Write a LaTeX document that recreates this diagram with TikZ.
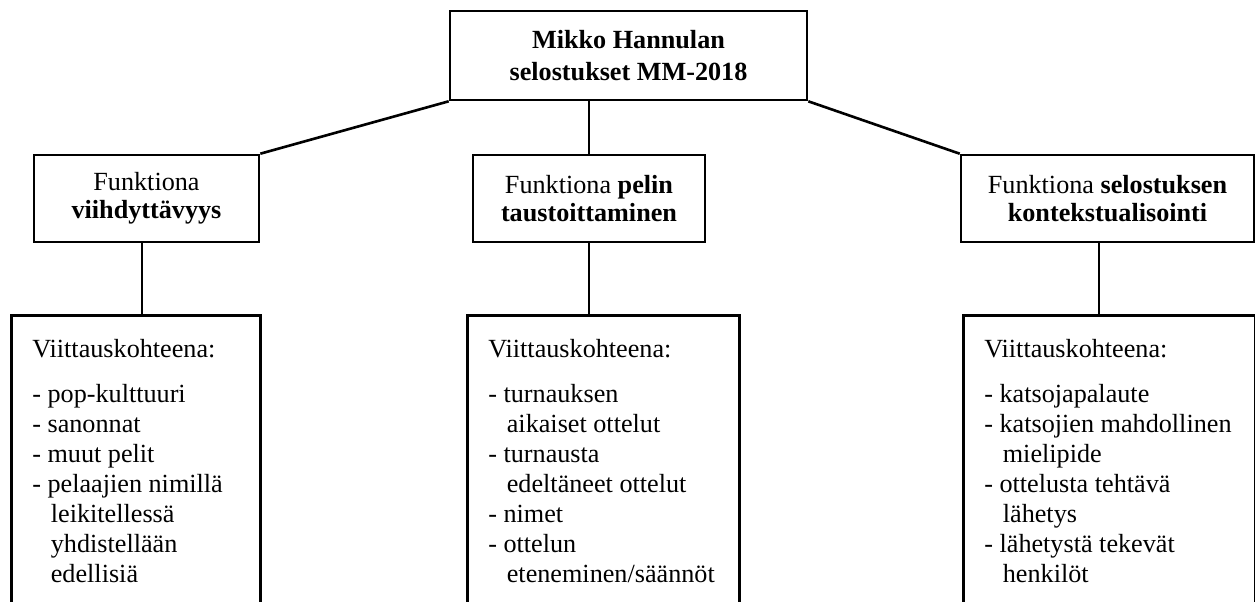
\documentclass[tikz,border=0pt]{standalone}
\usepackage{fontspec}
\setmainfont{Liberation Serif}
\usetikzlibrary{calc}
\newlength\pxu
\setlength\pxu{0.4583pt}
\newcommand\jatko{\hspace*{8.5pt}}
\newcommand\viite[2]{\parbox[t][160pt][t]{#1}{\raggedright Viittauskohteena:\\[7pt]#2}}
\tikzset{box/.style={draw,fill=white,inner sep=0pt,align=center},
  headbox/.style={box,minimum width={357*\pxu},minimum height={89*\pxu},font=\fontsize{12}{15}\selectfont\bfseries},
  funbox/.style={box,minimum height={87*\pxu},font=\fontsize{12}{12.9}\selectfont},
  refbox/.style={draw,anchor=north west,inner xsep={21*\pxu},inner ysep=11pt,align=left,font=\fontsize{12}{13.75}\selectfont}}

\begin{document}
\begin{tikzpicture}[x=\pxu,y=-\pxu,line width=1.2pt]
   \useasboundingbox (0,0) rectangle (1255,601);
   \clip (0,0) rectangle (1255,601);
   \node[headbox] (head) at (628.5,55.5) {Mikko Hannulan\\selostukset MM-2018};
   \node[funbox,minimum width={225*\pxu}] (fun1) at (146.5,198.5) {Funktiona\\\textbf{viihdyttävyys}};
   \node[funbox,minimum width={232*\pxu}] (fun2) at (589,198.5) {Funktiona \textbf{pelin}\\\textbf{taustoittaminen}};
   \node[funbox,minimum width={293*\pxu}] (fun3) at (1107.5,198.5) {Funktiona \textbf{selostuksen}\\\textbf{kontekstualisointi}};
   \node[refbox] (ref1) at (10,314) {\viite{207\pxu}{- pop-kulttuuri\\- sanonnat\\- muut pelit\\- pelaajien nimillä\\\jatko leikitellessä\\\jatko yhdistellään\\\jatko edellisiä}};
   \node[refbox] (ref2) at (466,314) {\viite{230\pxu}{- turnauksen\\\jatko aikaiset ottelut\\- turnausta\\\jatko edeltäneet ottelut\\- nimet\\- ottelun\\\jatko eteneminen/säännöt}};
   \node[refbox] (ref3) at (962,314) {\viite{250\pxu}{- katsojapalaute\\- katsojien mahdollinen\\\jatko mielipide\\- ottelusta tehtävä\\\jatko lähetys\\- lähetystä tekevät\\\jatko henkilöt}};
   \draw (head.south west) -- (fun1.north east);
   \draw (fun2.north) -- (fun2.north |- head.south);
   \draw (head.south east) -- (fun3.north west);
   \draw ($(fun1.south west)!.48!(fun1.south east)$) coordinate (k1) -- (k1 |- ref1.north);
   \draw (fun2.south) -- (fun2.south |- ref2.north);
   \draw ($(fun3.south west)!.471!(fun3.south east)$) coordinate (k3) -- (k3 |- ref3.north);
\end{tikzpicture}
\end{document}
